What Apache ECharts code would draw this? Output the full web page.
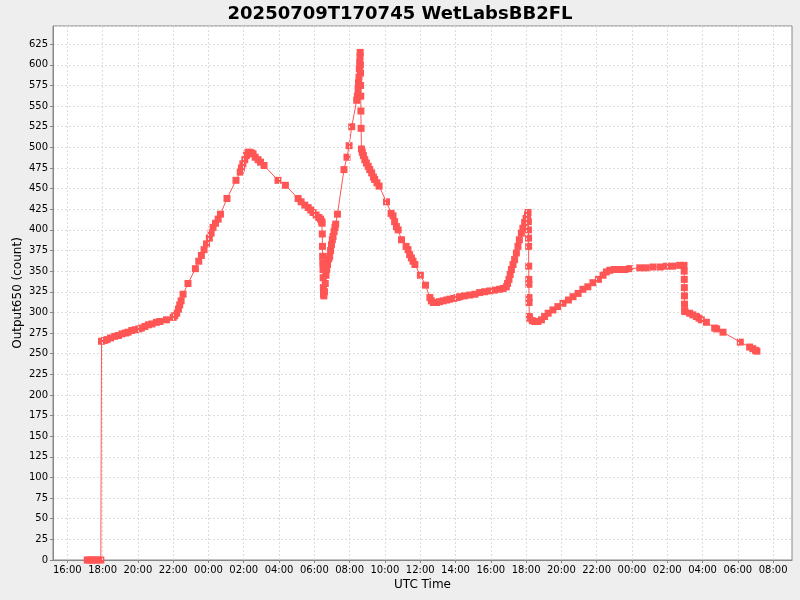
<!DOCTYPE html>
<html>
<head>
<meta charset="utf-8">
<script src="https://cdn.jsdelivr.net/npm/echarts@6/dist/echarts.min.js"></script>
<style>
html,body{margin:0;padding:0;background:#eeeeee;}
#chart{width:800px;height:600px;}
</style>
</head>
<body>
<div id="chart"></div>
<script>
// Time in hours since 2025-07-09T00:00 UTC
const hours = [
  17.13,17.25,17.40,17.55,17.70,17.90,
  17.94,18.10,18.25,18.45,18.69,18.90,19.10,19.30,19.44,19.65,19.85,20.05,20.20,20.40,20.60,20.80,21.05,21.25,21.62,22.00,22.09,22.20,22.30,22.37,22.45,22.56,22.84,23.26,23.45,23.60,23.75,23.89,24.05,24.15,24.26,24.40,24.55,24.68,25.05,25.56,25.80,25.87,25.95,26.06,26.15,26.24,26.35,26.45,26.53,26.65,26.81,26.95,27.15,27.94,28.36,
  29.08,29.25,29.46,29.65,29.80,29.93,30.10,30.25,30.35,30.42,30.44,30.45,30.46,30.47,30.48,30.49,30.50,30.51,30.52,30.54,30.58,30.62,30.66,30.70,30.75,30.82,30.87,30.92,30.97,31.02,31.06,31.12,31.17,31.21,31.31,31.68,31.85,31.97,32.12,32.40,32.44,32.48,32.50,32.53,32.55,32.57,32.59,32.60,32.61,32.615,32.62,32.63,32.64,32.65,32.67,32.72,32.78,32.86,32.95,33.05,33.14,33.25,33.35,33.42,33.55,33.67,34.09,34.35,34.46,34.55,34.65,34.75,34.94,35.20,35.31,35.40,35.50,35.59,35.70,36.01,36.30,36.55,36.63,36.75,36.92,37.10,37.30,37.50,37.67,37.90,38.10,38.24,38.50,38.80,39.10,39.37,39.65,39.94,40.20,40.50,40.70,40.88,40.95,41.03,41.10,41.17,41.26,41.35,41.45,41.54,41.62,41.73,41.82,41.92,42.00,42.08,42.11,42.13,42.135,42.14,42.145,42.15,42.155,42.16,42.165,42.17,42.18,42.20,42.35,42.49,42.67,42.87,43.05,43.25,43.52,43.80,44.09,44.40,44.66,44.95,45.22,45.50,45.79,46.10,46.36,46.55,46.74,47.00,47.30,47.60,47.87,48.44,48.80,49.19,49.60,49.95,50.30,50.70,50.95,50.96,50.965,50.97,50.975,50.98,50.985,51.00,51.27,51.45,51.65,51.80,51.93,52.22,52.69,52.80,53.16,54.14,54.67,54.85,55.00,55.08
];
const output650 = [
  0,0,0,0,0,0,
  265,266,267,269,271,272,274,275,276,278,279,280,281,283,285,286,288,289,291,294,296,299,304,309,314,322,335,353,362,369,376,383,390,396,403,408,413,419,438,460,470,475,480,485,490,494,494,493,492,488,485,482,478,460,454,
  438,434,430,427,424,421,418,415,413,410,408,395,380,368,360,352,342,330,322,320,325,335,345,352,358,365,368,375,382,388,392,398,403,407,419,473,488,502,525,557,562,570,578,585,595,603,610,615,600,590,575,562,544,523,498,494,490,485,481,477,473,469,464,461,457,453,434,420,417,410,404,400,388,380,376,370,366,362,358,345,333,318,314,312,312,313,314,315,316,317,318,319,320,321,322,324,325,326,327,328,329,331,335,340,346,352,358,364,372,380,388,396,402,409,414,418,421,410,400,390,380,356,340,334,318,312,295,293,290,289,289,291,295,299,303,307,311,315,319,323,328,331,336,340,345,349,351,352,352,352,353,354,354,355,355,356,356,357,357,350,340,330,320,310,302,301,299,297,295,293,291,288,281,280,276,264,258,256,254,253
];
// x tick positions (hours since 2025-07-09 00:00 UTC), labelled HH:00
const xTickHours = [16,18,20,22,24,26,28,30,32,34,36,38,40,42,44,46,48,50,52,54,56];
const xRange = [15.19, 57.07];
const yRange = [0, 647];
const yStep = 25;

const data = hours.map((h, i) => [h, output650[i]]);
const fmtHour = v => String(Math.round(v) % 24).padStart(2, '0') + ':00';
const gridLineStyle = { color: '#dcdcdc', type: [2, 2], width: 1 };
const chart = echarts.init(document.getElementById('chart'));
chart.setOption({
  backgroundColor: '#eeeeee',
  animation: false,
  title: {
    text: '20250709T170745 WetLabsBB2FL',
    left: 'center', top: 0,
    textStyle: { fontFamily: 'DejaVu Sans', fontSize: 18, fontWeight: 'bold', color: '#000' }
  },
  grid: { left: 53, right: 8, top: 26, bottom: 40, show: true, backgroundColor: '#ffffff',
          borderColor: '#888888', borderWidth: 1, outerBoundsMode: 'none', containLabel: false },
  xAxis: {
    type: 'value',
    min: xRange[0], max: xRange[1],
    name: 'UTC Time', nameLocation: 'middle', nameGap: 19, nameMoveOverlap: false,
    nameTextStyle: { fontFamily: 'DejaVu Sans', fontSize: 12, color: '#000' },
    axisLine: { lineStyle: { color: '#888888' } },
    axisTick: { show: true, length: 3, customValues: xTickHours, lineStyle: { color: '#888888' } },
    axisLabel: { customValues: xTickHours, formatter: fmtHour, fontFamily: 'DejaVu Sans', fontSize: 10, color: '#000', margin: 5 },
    splitLine: { show: false }
  },
  yAxis: {
    type: 'value',
    min: yRange[0], max: yRange[1], interval: yStep,
    name: 'Output650 (count)', nameLocation: 'middle', nameGap: 29, nameMoveOverlap: false,
    nameTextStyle: { fontFamily: 'DejaVu Sans', fontSize: 12, color: '#000' },
    axisLine: { show: true, lineStyle: { color: '#888888' } },
    axisTick: { show: true, length: 3, lineStyle: { color: '#888888' } },
    axisLabel: { fontFamily: 'DejaVu Sans', fontSize: 10, color: '#000', margin: 5, showMaxLabel: false },
    splitLine: { show: true, lineStyle: gridLineStyle }
  },
  series: [{
    type: 'line',
    z: 1,
    data: [],
    silent: true,
    markLine: {
      silent: true,
      symbol: ['none', 'none'],
      label: { show: false },
      lineStyle: gridLineStyle,
      emphasis: { disabled: true },
      data: xTickHours.map(h => ({ xAxis: h }))
    }
  }, {
    type: 'line',
    z: 2,
    data: data,
    symbol: 'rect',
    symbolSize: 7,
    showAllSymbol: true,
    itemStyle: { color: '#ff5555' },
    lineStyle: { color: '#ff5555', width: 1 }
  }]
});
</script>
</body>
</html>
